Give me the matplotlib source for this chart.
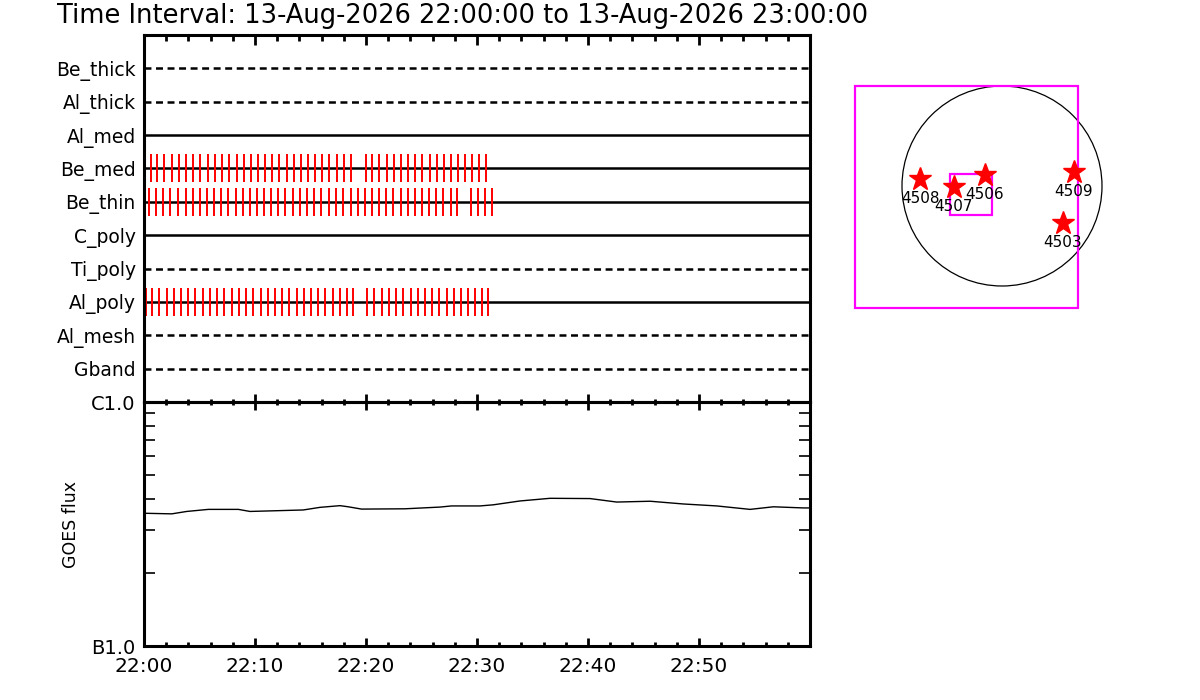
import matplotlib
matplotlib.use("Agg")
import matplotlib.pyplot as plt
from matplotlib.patches import Circle, Rectangle
from matplotlib.ticker import FixedLocator, MultipleLocator, LogLocator, NullFormatter

plt.rcParams['font.family'] = ['DejaVu Sans']
plt.rcParams['lines.scale_dashes'] = False

# --- data ---
title = "Time Interval: 13-Aug-2026 22:00:00 to 13-Aug-2026 23:00:00"

channels = ["Be_thick", "Al_thick", "Al_med", "Be_med", "Be_thin",
            "C_poly", "Ti_poly", "Al_poly", "Al_mesh", "Gband"]
dashed = [True, True, False, False, False, False, True, False, True, True]

# minutes after 22:00 of each exposure mark
be_med_times = [0.60, 1.20, 1.83, 2.49, 3.12, 3.78, 4.44, 5.08, 5.74, 6.43,
                7.06, 7.69, 8.35, 8.98, 9.64, 10.30, 10.93, 11.56, 12.19, 12.85,
                13.51, 14.17, 14.77, 15.44, 16.07, 16.70, 17.36, 18.02, 18.65,
                19.97, 20.57, 21.20, 21.86, 22.52, 23.15, 23.81, 24.44, 25.08,
                25.74, 26.37, 27.03, 27.66, 28.32, 28.95, 29.58, 30.21, 30.78]
be_thin_times = [0.48, 1.11, 1.74, 2.37, 3.09, 3.75, 4.38, 5.02, 5.65, 6.31,
                 6.94, 7.60, 8.26, 8.89, 9.52, 10.15, 10.81, 11.47, 12.07, 12.73,
                 13.39, 14.05, 14.65, 15.32, 15.98, 16.64, 17.30, 17.96, 18.62,
                 19.25, 19.88, 20.54, 21.20, 21.83, 22.46, 23.12, 23.75, 24.38,
                 25.05, 25.71, 26.34, 26.97, 27.63, 28.23,
                 29.46, 30.06, 30.69, 31.35]
al_poly_times = [0.15, 0.75, 1.38, 2.04, 2.67, 3.33, 3.99, 4.62, 5.29, 5.95,
                 6.61, 7.24, 7.90, 8.56, 9.19, 9.85, 10.51, 11.14, 11.77, 12.43,
                 13.09, 13.75, 14.38, 15.05, 15.71, 16.34, 17.00, 17.66, 18.26,
                 18.86, 20.12, 20.75, 21.41, 22.07, 22.70, 23.36, 24.02, 24.65,
                 25.32, 25.98, 26.61, 27.27, 27.93, 28.56, 29.22, 29.85, 30.42,
                 31.02]
marks = {"Be_med": be_med_times, "Be_thin": be_thin_times, "Al_poly": al_poly_times}

goes_t = [0.0, 2.5, 3.85, 5.8, 8.5, 9.55, 11.5, 14.35, 15.85, 17.66, 18.4, 19.6,
          23.5, 26.67, 27.7, 30.27, 31.47, 33.87, 36.58, 40.18, 42.59, 45.6,
          48.59, 51.6, 54.6, 56.7, 59.4, 60.0]
goes_flux = [3.50e-7, 3.48e-7, 3.56e-7, 3.63e-7, 3.63e-7, 3.56e-7, 3.58e-7,
             3.61e-7, 3.70e-7, 3.76e-7, 3.72e-7, 3.64e-7, 3.65e-7, 3.71e-7,
             3.75e-7, 3.75e-7, 3.79e-7, 3.93e-7, 4.03e-7, 4.02e-7, 3.89e-7,
             3.92e-7, 3.82e-7, 3.75e-7, 3.63e-7, 3.72e-7, 3.68e-7, 3.68e-7]
time_labels = ["22:00", "22:10", "22:20", "22:30", "22:40", "22:50"]
time_label_pos = [0, 10, 20, 30, 40, 50]

# solar map (arcsec)
sun_radius = 960
fov_box = (-1411, -1171, 2141, 2131)     # x0, y0, w, h
sub_box = (-499, -278, 403, 393)
ar_names = ["4508", "4507", "4506", "4509", "4503"]
ar_x = [-787, -464, -163, 691, 583]
ar_y = [67, -10, 106, 134, -355]

# --- figure ---
W, H = 1200, 700
fig = plt.figure(figsize=(12, 7), dpi=100)


def px_axes(left, top, right, bottom):
    return fig.add_axes([left / W, (H - bottom) / H, (right - left) / W, (bottom - top) / H])


fig.text(57 / W, 1 - 16 / H, title, fontsize=18.5, va='center', ha='left')

# top panel: channel timeline
ax1 = px_axes(144, 35, 810, 402)
nrows = len(channels)
ypos = [nrows - i for i in range(nrows)]
for name, y, d in zip(channels, ypos, dashed):
    if d:
        ax1.hlines(y, 0, 60, color='black', lw=1.8, linestyles=(0, (5, 3.3)))
    else:
        ax1.hlines(y, 0, 60, color='black', lw=1.8)
    if name in marks:
        ax1.vlines(marks[name], y - 0.42, y + 0.42, color='red', lw=1.4)
ax1.set_xlim(0, 60)
ax1.set_ylim(0, nrows + 1)
ax1.set_yticks(ypos)
ax1.set_yticklabels(channels, fontsize=13.5)
ax1.tick_params(axis='y', length=0, pad=6)
ax1.xaxis.set_major_locator(MultipleLocator(10))
ax1.xaxis.set_minor_locator(MultipleLocator(2))
ax1.tick_params(axis='x', which='both', top=True, bottom=False, labeltop=False,
                labelbottom=False, direction='in', width=2)
ax1.tick_params(axis='x', which='major', length=7)
ax1.tick_params(axis='x', which='minor', length=4)
for s in ax1.spines.values():
    s.set_linewidth(2.2)
ax1.spines['bottom'].set_visible(False)

# bottom panel: GOES flux
ax2 = px_axes(144, 402, 810, 646)
ax2.plot(goes_t, goes_flux, color='black', lw=1.0)
ax2.set_yscale('log')
ax2.set_ylim(1e-7, 1e-6)
ax2.set_xlim(0, 60)
ax2.set_yticks([1e-7, 1e-6])
ax2.set_yticklabels(["B1.0", "C1.0"], fontsize=14)
ax2.yaxis.set_minor_locator(LogLocator(base=10, subs=range(2, 10)))
ax2.yaxis.set_minor_formatter(NullFormatter())
ax2.tick_params(axis='y', which='major', length=0, pad=6)
ax2.tick_params(axis='y', which='minor', left=True, right=True, direction='in',
                length=8, width=1.2)
ax2.xaxis.set_major_locator(FixedLocator(time_label_pos))
ax2.set_xticklabels(time_labels, fontsize=14.5)
ax2.xaxis.set_minor_locator(MultipleLocator(2))
ax2.tick_params(axis='x', which='both', top=True, bottom=True, direction='in', width=2)
ax2.tick_params(axis='x', which='major', length=6, pad=8)
ax2.tick_params(axis='x', which='minor', length=3)
ax2.set_ylabel("GOES flux", fontsize=12.5, labelpad=8)
for s in ax2.spines.values():
    s.set_linewidth(2.2)

# top edge ticks of the flux panel cross the shared border
sec = ax2.secondary_xaxis('top')
sec.xaxis.set_major_locator(MultipleLocator(10))
sec.xaxis.set_minor_locator(MultipleLocator(2))
sec.tick_params(axis='x', which='both', direction='inout', width=2, labeltop=False)
sec.tick_params(axis='x', which='major', length=12)
sec.tick_params(axis='x', which='minor', length=5)
sec.spines['top'].set_linewidth(2.2)
ax2.tick_params(axis='x', which='both', top=False)

# solar map
ax3 = px_axes(850, 80, 1110, 315)
scale = 9.6
ax3.set_xlim((850 - 1002) * scale, (1110 - 1002) * scale)
ax3.set_ylim((186 - 315) * scale, (186 - 80) * scale)
ax3.add_patch(Circle((0, 0), sun_radius, fill=False, ec='black', lw=0.9))
ax3.add_patch(Rectangle(fov_box[:2], fov_box[2], fov_box[3], fill=False,
                        ec='#ff00ff', lw=1.6))
ax3.add_patch(Rectangle(sub_box[:2], sub_box[2], sub_box[3], fill=False,
                        ec='#ff00ff', lw=1.6))
ax3.plot(ar_x, ar_y, linestyle='none', marker='*', markersize=17, color='red', mec='red')
for name, x, y in zip(ar_names, ar_x, ar_y):
    ax3.annotate(name, (x, y), xytext=(0, -14), textcoords='offset points',
                 ha='center', va='center', fontsize=11)
ax3.axis('off')

fig.savefig("out.png", dpi=100)
